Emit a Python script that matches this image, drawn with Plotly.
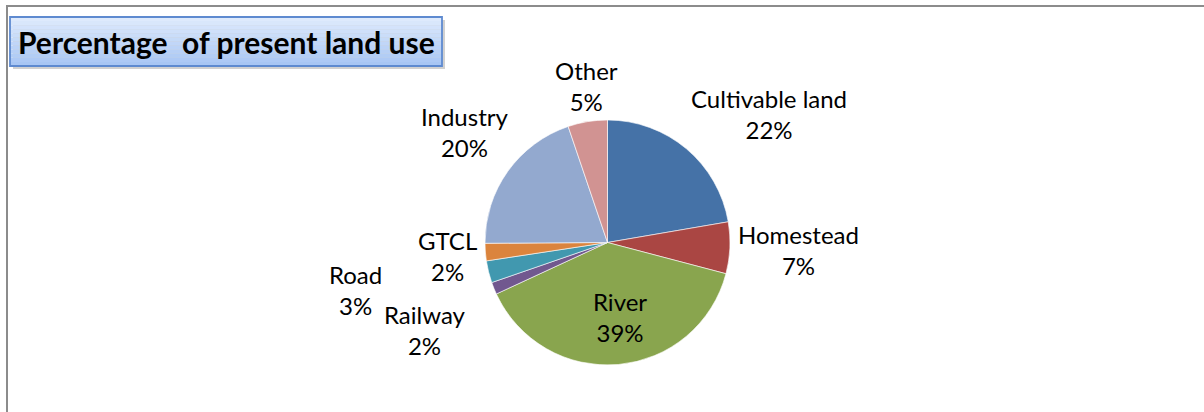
import plotly.graph_objects as go

# land use shares (percent), clockwise from 12 o'clock
categories = ['Cultivable land', 'Homestead', 'River', 'Railway',
              'Road', 'GTCL', 'Industry', 'Other']
shares = [22.3, 6.8, 39.0, 1.6, 2.9, 2.3, 19.9, 5.2]
colors = ['#4572A7', '#AA4643', '#89A54E', '#71588F',
          '#4198AF', '#DB843D', '#93A9CF', '#D19392']
title_text = 'Percentage\u00a0 of present land use'

W, H = 1204, 412
cx, cy, r = 607.5, 242.5, 122.5

# data label centres in pixels (Excel "best fit" placement)
label_pos = {
    'Cultivable land': (769, 114),
    'Homestead': (798, 250),
    'River': (620, 317),
    'Railway': (425, 330),
    'Road': (355, 290),
    'GTCL': (447, 256),
    'Industry': (464, 132),
    'Other': (586, 86),
}

fig = go.Figure()

fig.add_trace(
    go.Pie(
        labels=categories,
        values=shares,
        sort=False,
        direction='clockwise',
        rotation=0,
        marker=dict(colors=colors, line=dict(color='white', width=0.6)),
        textinfo='none',
        showlegend=False,
        hoverinfo='label+percent',
        domain=dict(x=[(cx - r) / W, (cx + r) / W],
                    y=[(H - cy - r) / H, (H - cy + r) / H]),
    )
)

total = sum(shares)
for name, val in zip(categories, shares):
    px, py = label_pos[name]
    fig.add_annotation(
        text='%s<br>%d%%' % (name, round(100 * val / total)),
        xref='paper', yref='paper',
        x=px / W, y=1 - py / H,
        xanchor='center', yanchor='middle',
        showarrow=False,
        font=dict(family='Lato', size=24, color='black'),
    )

# frame lines (top and left)
fig.add_shape(type='line', xref='paper', yref='paper',
              x0=6 / W, x1=1, y0=1 - 6 / H, y1=1 - 6 / H,
              line=dict(color='#8C8C8C', width=2))
fig.add_shape(type='line', xref='paper', yref='paper',
              x0=7 / W, x1=7 / W, y0=0, y1=1 - 6 / H,
              line=dict(color='#8C8C8C', width=2))

# title box: shadow + gradient strips
bx0, bx1, by0, by1 = 10, 442, 17, 66
fig.add_shape(type='rect', xref='paper', yref='paper',
              x0=(bx0 + 3) / W, x1=(bx1 + 3) / W,
              y0=1 - (by1 + 3) / H, y1=1 - (by0 + 3) / H,
              line=dict(width=0), fillcolor='rgba(0,0,0,0.18)')
n = 12
top_c = (222, 234, 252)
bot_c = (168, 198, 244)
for i in range(n):
    t = i / (n - 1)
    c = tuple(round(a + (b - a) * t) for a, b in zip(top_c, bot_c))
    ya = by0 + (by1 - by0) * i / n
    yb = by0 + (by1 - by0) * (i + 1) / n
    fig.add_shape(type='rect', xref='paper', yref='paper',
                  x0=bx0 / W, x1=bx1 / W, y0=1 - yb / H, y1=1 - ya / H,
                  line=dict(width=0), fillcolor='rgb(%d,%d,%d)' % c)
fig.add_shape(type='rect', xref='paper', yref='paper',
              x0=bx0 / W, x1=bx1 / W, y0=1 - by1 / H, y1=1 - by0 / H,
              line=dict(color='#5E8AD0', width=1.8), fillcolor='rgba(0,0,0,0)')

fig.add_annotation(
    text='<b>' + title_text + '</b>',
    xref='paper', yref='paper',
    x=(bx0 + bx1) / 2 / W, y=1 - (by0 + by1) / 2 / H,
    xanchor='center', yanchor='middle',
    showarrow=False,
    font=dict(family='Lato', size=30, color='black'),
)

fig.update_layout(
    width=W,
    height=H,
    margin=dict(l=0, r=0, t=0, b=0),
    paper_bgcolor='white',
    plot_bgcolor='white',
)

fig.write_html('out.html', config={'displayModeBar': False},
               post_script="document.body.style.margin='0';")
